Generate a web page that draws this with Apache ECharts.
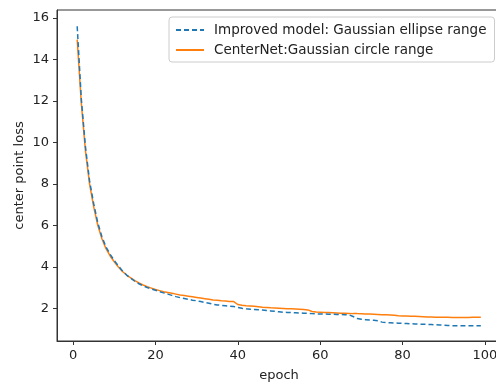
<!DOCTYPE html>
<html>
<head>
<meta charset="utf-8">
<script src="https://cdn.jsdelivr.net/npm/echarts@6/dist/echarts.min.js"></script>
<style>html,body{margin:0;padding:0;background:#fff;}#c{width:496px;height:383px;}</style>
</head>
<body>
<div id="c"></div>
<script>
const epochs = Array.from({length: 99}, (_, i) => i + 1);
const improvedLoss = [
15.6, 12.1, 9.8, 8.15, 7.05, 6.12, 5.45, 4.95, 4.6, 4.3,
4.04, 3.8, 3.6, 3.45, 3.3, 3.18, 3.08, 3.0, 2.93, 2.87,
2.8, 2.74, 2.68, 2.62, 2.56, 2.51, 2.47, 2.43, 2.39, 2.36,
2.32, 2.28, 2.24, 2.19, 2.16, 2.14, 2.12, 2.10, 2.08, 2.04,
2.0, 1.97, 1.95, 1.94, 1.93, 1.91, 1.89, 1.87, 1.85, 1.83,
1.81, 1.80, 1.79, 1.78, 1.77, 1.76, 1.75, 1.74, 1.73, 1.72,
1.72, 1.71, 1.71, 1.70, 1.70, 1.69, 1.68, 1.60, 1.50, 1.47,
1.45, 1.43, 1.42, 1.40, 1.33, 1.31, 1.30, 1.29, 1.28, 1.27,
1.26, 1.25, 1.24, 1.23, 1.23, 1.22, 1.21, 1.20, 1.19, 1.18,
1.17, 1.16, 1.16, 1.16, 1.15, 1.15, 1.15, 1.15, 1.15
];
const centerNetLoss = [
14.95, 11.9, 9.6, 8.0, 6.9, 6.0, 5.35, 4.87, 4.52, 4.24,
3.99, 3.77, 3.6, 3.46, 3.33, 3.22, 3.12, 3.04, 2.97, 2.9,
2.85, 2.8, 2.76, 2.72, 2.68, 2.64, 2.61, 2.58, 2.55, 2.52,
2.49, 2.46, 2.43, 2.40, 2.38, 2.36, 2.35, 2.33, 2.32, 2.18,
2.14, 2.12, 2.11, 2.09, 2.07, 2.05, 2.04, 2.02, 2.01, 2.0,
1.99, 1.98, 1.97, 1.96, 1.95, 1.94, 1.92, 1.84, 1.82, 1.81,
1.80, 1.79, 1.78, 1.77, 1.76, 1.76, 1.75, 1.74, 1.74, 1.73,
1.72, 1.72, 1.71, 1.70, 1.69, 1.68, 1.67, 1.66, 1.64, 1.63,
1.62, 1.61, 1.61, 1.60, 1.59, 1.58, 1.58, 1.57, 1.57, 1.56,
1.56, 1.55, 1.55, 1.55, 1.55, 1.55, 1.56, 1.56, 1.56
];
const xTicks = [0, 20, 40, 60, 80, 100];
const yTicks = [2, 4, 6, 8, 10, 12, 14, 16];
const seriesNames = ['Improved model: Gaussian ellipse range', 'CenterNet:Gaussian circle range'];

const FONT = 'DejaVu Sans';
const chart = echarts.init(document.getElementById('c'), null, {renderer: 'canvas'});
chart.setOption({
  animation: false,
  backgroundColor: '#fff',
  textStyle: {fontFamily: FONT},
  grid: {left: 57, top: 10, width: 444, height: 331, outerBoundsMode: 'none', containLabel: false,
         show: true, borderColor: '#333', borderWidth: 1, backgroundColor: 'transparent'},
  legend: {
    orient: 'vertical', left: 169, top: 17,
    backgroundColor: '#fff', borderColor: '#ccc', borderWidth: 1, borderRadius: 3,
    padding: [6, 8, 5, 6], itemGap: 6, itemWidth: 28, itemHeight: 14,
    itemStyle: {color: 'transparent', borderColor: 'transparent', borderWidth: 0},
    textStyle: {fontFamily: FONT, fontSize: 13.5, color: '#222', padding: [0, 0, 0, 5]},
    data: seriesNames
  },
  xAxis: {
    type: 'value', min: -3.9, max: 103.9,
    name: 'epoch', nameLocation: 'middle', nameGap: 28,
    nameTextStyle: {fontFamily: FONT, fontSize: 13, color: '#222'},
    axisLine: {show: true, onZero: false, lineStyle: {color: '#333', width: 1}},
    axisTick: {show: true, length: 4, customValues: xTicks, lineStyle: {color: '#333'}},
    axisLabel: {customValues: xTicks, margin: 8, fontFamily: FONT, fontSize: 13, color: '#222'},
    splitLine: {show: false}
  },
  yAxis: {
    type: 'value', min: 0.42, max: 16.38,
    name: 'center point loss', nameLocation: 'middle', nameGap: 31, nameRotate: 90,
    nameMoveOverlap: false,
    nameTextStyle: {fontFamily: FONT, fontSize: 13, color: '#222'},
    axisLine: {show: true, onZero: false, lineStyle: {color: '#333', width: 1}},
    axisTick: {show: true, length: 4, customValues: yTicks, lineStyle: {color: '#333'}},
    axisLabel: {customValues: yTicks, margin: 8, fontFamily: FONT, fontSize: 13, color: '#222'},
    splitLine: {show: false}
  },
  series: [
    {
      name: seriesNames[0], type: 'line', showSymbol: false, symbol: 'none',
      data: epochs.map((e, i) => [e, improvedLoss[i]]),
      lineStyle: {color: '#1f77b4', width: 1.5, type: [5, 3]},
      itemStyle: {color: '#1f77b4'}, z: 3
    },
    {
      name: seriesNames[1], type: 'line', showSymbol: false, symbol: 'none',
      data: epochs.map((e, i) => [e, centerNetLoss[i]]),
      lineStyle: {color: '#ff7f0e', width: 1.5},
      itemStyle: {color: '#ff7f0e'}, z: 2
    }
  ]
});
</script>
</body>
</html>
